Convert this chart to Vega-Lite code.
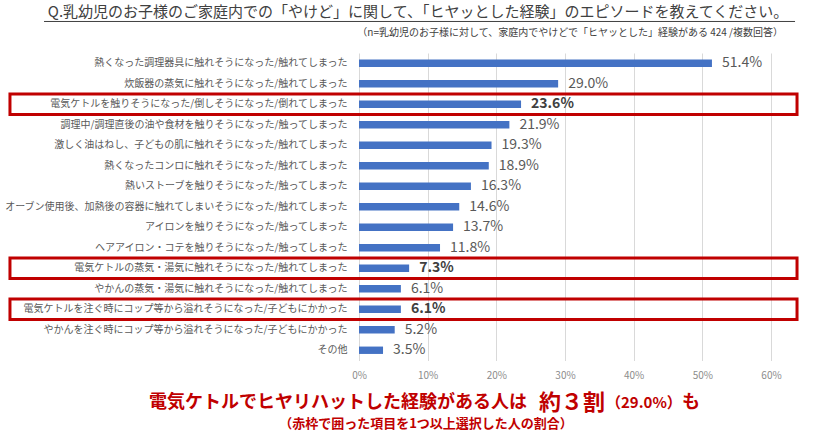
{
  "$schema": "https://vega.github.io/schema/vega-lite/v6.json",
  "width": 412,
  "height": 307.5,
  "autosize": {"type": "none"},
  "padding": {"left": 359, "top": 53, "right": 51, "bottom": 76.5},
  "background": "white",
  "config": {
    "view": {"stroke": null},
    "font": "Noto Sans CJK JP"
  },
  "resolve": {"scale": {"y": "independent"}},
  "layer": [
    {
      "data": {
        "values": [
          {"label": "熱くなった調理器具に触れそうになった/触れてしまった", "value": 0.514, "highlight": false},
          {"label": "炊飯器の蒸気に触れそうになった/触れてしまった", "value": 0.290, "highlight": false},
          {"label": "電気ケトルを触りそうになった/倒しそうになった/倒れてしまった", "value": 0.236, "highlight": true},
          {"label": "調理中/調理直後の油や食材を触りそうになった/触ってしまった", "value": 0.219, "highlight": false},
          {"label": "激しく油はねし、子どもの肌に触れそうになった/触れてしまった", "value": 0.193, "highlight": false},
          {"label": "熱くなったコンロに触れそうになった/触れてしまった", "value": 0.189, "highlight": false},
          {"label": "熱いストーブを触りそうになった/触ってしまった", "value": 0.163, "highlight": false},
          {"label": "オーブン使用後、加熱後の容器に触れてしまいそうになった/触れてしまった", "value": 0.146, "highlight": false},
          {"label": "アイロンを触りそうになった/触ってしまった", "value": 0.137, "highlight": false},
          {"label": "ヘアアイロン・コテを触りそうになった/触ってしまった", "value": 0.118, "highlight": false},
          {"label": "電気ケトルの蒸気・湯気に触れそうになった/触れてしまった", "value": 0.073, "highlight": true},
          {"label": "やかんの蒸気・湯気に触れそうになった/触れてしまった", "value": 0.061, "highlight": false},
          {"label": "電気ケトルを注ぐ時にコップ等から溢れそうになった/子どもにかかった", "value": 0.061, "highlight": true},
          {"label": "やかんを注ぐ時にコップ等から溢れそうになった/子どもにかかった", "value": 0.052, "highlight": false},
          {"label": "その他", "value": 0.035, "highlight": false}
        ]
      },
      "encoding": {
        "y": {
          "field": "label",
          "type": "nominal",
          "sort": null,
          "scale": {"paddingInner": 0, "paddingOuter": 0},
          "axis": {
            "title": null,
            "domain": false,
            "ticks": false,
            "labelFontSize": 10,
            "labelColor": "#595959",
            "labelPadding": 12,
            "labelLimit": 420,
            "labelFont": "Noto Sans CJK JP"
          }
        }
      },
      "layer": [
        {
          "mark": {"type": "bar", "color": "#4472c4", "height": {"band": 0.36}},
          "encoding": {
            "x": {
              "field": "value",
              "type": "quantitative",
              "scale": {"domain": [0, 0.6], "nice": false},
              "axis": {
                "title": null,
                "format": ".0%",
                "values": [0, 0.1, 0.2, 0.3, 0.4, 0.5, 0.6],
                "grid": true,
                "gridColor": "#d9d9d9",
                "gridWidth": 1,
                "domain": false,
                "ticks": false,
                "labelFlush": false,
                "labelFontSize": 10,
                "labelColor": "#8c8c8c",
                "labelPadding": 10,
                "labelFont": "Noto Sans CJK JP"
              }
            }
          }
        },
        {
          "transform": [{"filter": "!datum.highlight"}],
          "mark": {"type": "text", "align": "left", "baseline": "middle", "dx": 10, "fontSize": 14, "color": "#595959", "font": "Noto Sans CJK JP"},
          "encoding": {
            "x": {"field": "value", "type": "quantitative"},
            "text": {"field": "value", "type": "quantitative", "format": ".1%"}
          }
        },
        {
          "transform": [{"filter": "datum.highlight"}],
          "mark": {"type": "text", "align": "left", "baseline": "middle", "dx": 10, "fontSize": 14, "fontWeight": "bold", "color": "#404040", "font": "Noto Sans CJK JP"},
          "encoding": {
            "x": {"field": "value", "type": "quantitative"},
            "text": {"field": "value", "type": "quantitative", "format": ".1%"}
          }
        },
        {
          "transform": [{"filter": "datum.highlight"}],
          "mark": {"type": "rect", "fill": null, "fillOpacity": 0, "stroke": "#c00000", "strokeWidth": 3},
          "encoding": {
            "x": {"datum": -0.5083, "type": "quantitative"},
            "x2": {"datum": 0.6379}
          }
        }
      ]
    },
    {
      "data": {"values": [{}]},
      "mark": {"type": "text", "align": "center", "baseline": "middle", "fontSize": 15, "color": "#404040", "font": "Noto Sans CJK JP", "text": "Q.乳幼児のお子様のご家庭内での「やけど」に関して、「ヒヤッとした経験」のエピソードを教えてください。"},
      "encoding": {
        "x": {"datum": 0.0859, "type": "quantitative"},
        "y": {"datum": 1.1333, "type": "quantitative", "scale": {"domain": [0, 1], "nice": false}, "axis": null}
      }
    },
    {
      "data": {"values": [{}]},
      "mark": {"type": "rule", "color": "#404040", "strokeWidth": 1},
      "encoding": {
        "x": {"datum": -0.4587, "type": "quantitative"},
        "x2": {"datum": 0.6350},
        "y": {"datum": 1.1025, "type": "quantitative", "scale": {"domain": [0, 1], "nice": false}, "axis": null}
      }
    },
    {
      "data": {"values": [{}]},
      "mark": {"type": "text", "align": "right", "baseline": "middle", "fontSize": 10, "color": "#404040", "font": "Noto Sans CJK JP", "text": "（n=乳幼児のお子様に対して、家庭内でやけどで「ヒヤッとした」経験がある 424 /複数回答）"},
      "encoding": {
        "x": {"datum": 0.6175, "type": "quantitative"},
        "y": {"datum": 1.0650, "type": "quantitative", "scale": {"domain": [0, 1], "nice": false}, "axis": null}
      }
    },
    {
      "data": {"values": [{}]},
      "mark": {"type": "text", "align": "left", "baseline": "middle", "fontSize": 18, "fontWeight": "bold", "color": "#c00000", "font": "Noto Sans CJK JP", "text": "電気ケトルでヒヤリハットした経験がある人は"},
      "encoding": {
        "x": {"datum": -0.3058, "type": "quantitative"},
        "y": {"datum": -0.1382, "type": "quantitative", "scale": {"domain": [0, 1], "nice": false}, "axis": null}
      }
    },
    {
      "data": {"values": [{}]},
      "mark": {"type": "text", "align": "left", "baseline": "middle", "fontSize": 22, "fontWeight": "bold", "color": "#c00000", "font": "Noto Sans CJK JP", "text": "約３割"},
      "encoding": {
        "x": {"datum": 0.2620, "type": "quantitative"},
        "y": {"datum": -0.1382, "type": "quantitative", "scale": {"domain": [0, 1], "nice": false}, "axis": null}
      }
    },
    {
      "data": {"values": [{}]},
      "mark": {"type": "text", "align": "left", "baseline": "middle", "fontSize": 15, "fontWeight": "bold", "color": "#c00000", "font": "Noto Sans CJK JP", "text": "（29.0%）"},
      "encoding": {
        "x": {"datum": 0.3597, "type": "quantitative"},
        "y": {"datum": -0.1382, "type": "quantitative", "scale": {"domain": [0, 1], "nice": false}, "axis": null}
      }
    },
    {
      "data": {"values": [{}]},
      "mark": {"type": "text", "align": "left", "baseline": "middle", "fontSize": 18, "fontWeight": "bold", "color": "#c00000", "font": "Noto Sans CJK JP", "text": "も"},
      "encoding": {
        "x": {"datum": 0.4704, "type": "quantitative"},
        "y": {"datum": -0.1382, "type": "quantitative", "scale": {"domain": [0, 1], "nice": false}, "axis": null}
      }
    },
    {
      "data": {"values": [{}]},
      "mark": {"type": "text", "align": "center", "baseline": "middle", "fontSize": 13, "fontWeight": "bold", "color": "#c00000", "font": "Noto Sans CJK JP", "text": "（赤枠で囲った項目を1つ以上選択した人の割合）"},
      "encoding": {
        "x": {"datum": 0.0976, "type": "quantitative"},
        "y": {"datum": -0.2065, "type": "quantitative", "scale": {"domain": [0, 1], "nice": false}, "axis": null}
      }
    }
  ]
}
